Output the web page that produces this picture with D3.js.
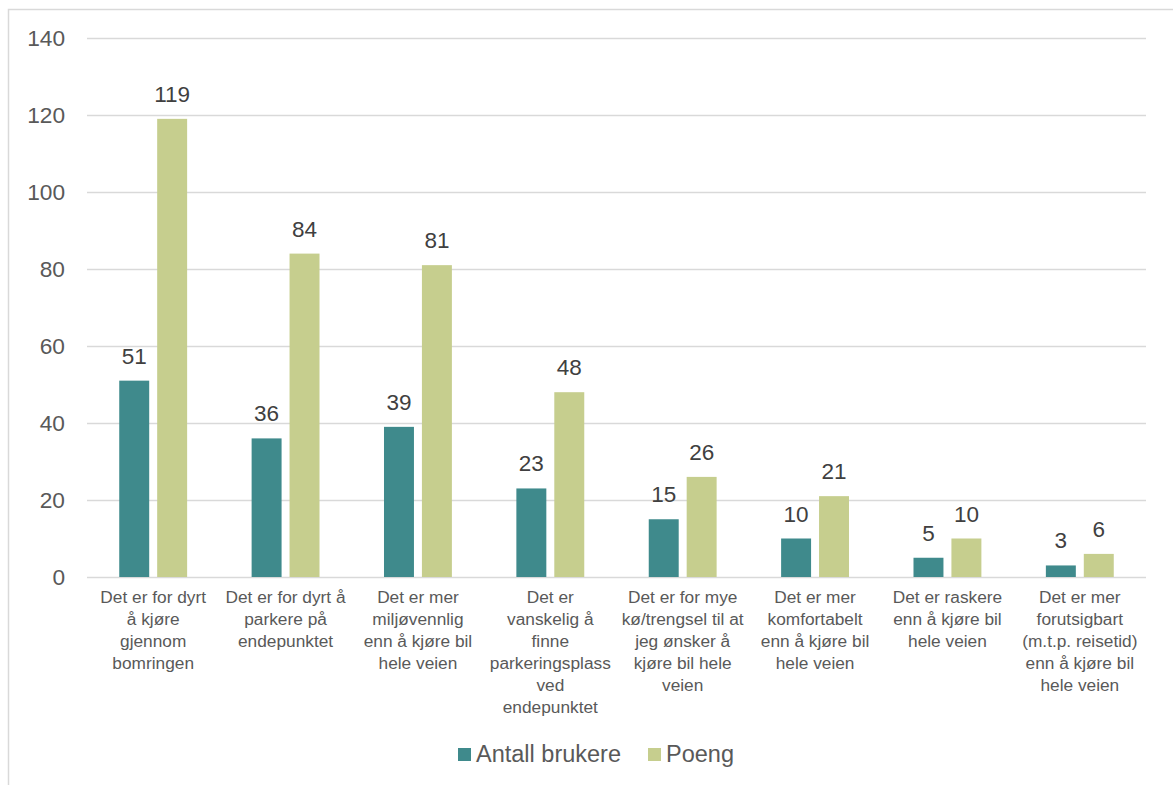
<!DOCTYPE html>
<html>
<head>
<meta charset="utf-8">
<script src="https://cdn.jsdelivr.net/npm/d3@7"></script>
<style>
  html, body { margin: 0; padding: 0; background: #fff; }
  svg { display: block; font-family: "Liberation Sans", Arial, sans-serif; }
</style>
</head>
<body>
<svg id="chart" width="1173" height="785"></svg>
<script>
// Reasons for choosing park-and-ride, with line breaks as shown under each group
const categories = [
  "Det er for dyrt\nå kjøre\ngjennom\nbomringen",
  "Det er for dyrt å\nparkere på\nendepunktet",
  "Det er mer\nmiljøvennlig\nenn å kjøre bil\nhele veien",
  "Det er\nvanskelig å\nfinne\nparkeringsplass\nved\nendepunktet",
  "Det er for mye\nkø/trengsel til at\njeg ønsker å\nkjøre bil hele\nveien",
  "Det er mer\nkomfortabelt\nenn å kjøre bil\nhele veien",
  "Det er raskere\nenn å kjøre bil\nhele veien",
  "Det er mer\nforutsigbart\n(m.t.p. reisetid)\nenn å kjøre bil\nhele veien"
];
const seriesNames = ["Antall brukere", "Poeng"];
const antallBrukere = [51, 36, 39, 23, 15, 10, 5, 3];
const poeng = [119, 84, 81, 48, 26, 21, 10, 6];
const yTicks = [0, 20, 40, 60, 80, 100, 120, 140];
const colors = ["#3f8a8c", "#c6ce8e"];

const svg = d3.select("#chart");
const textColor = "#595959";
const gridColor = "#d9d9d9";

// outer chart frame
svg.append("rect")
  .attr("x", 8.5).attr("y", 9.5)
  .attr("width", 1180).attr("height", 800)
  .attr("fill", "none").attr("stroke", gridColor).attr("stroke-width", 1.5);

const plot = { left: 87, right: 1146, top: 38, bottom: 577 };

const y = d3.scaleLinear().domain([0, 140]).range([plot.bottom, plot.top]);

const x0 = d3.scaleBand()
  .domain(d3.range(categories.length))
  .range([plot.left, plot.right])
  .padding(0);

const x1 = d3.scaleBand()
  .domain(seriesNames)
  .range([0, x0.bandwidth()])
  .paddingInner(0.21)
  .paddingOuter(0.85);

// gridlines
svg.append("g")
  .selectAll("line")
  .data(yTicks)
  .join("line")
  .attr("x1", plot.left).attr("x2", plot.right)
  .attr("y1", d => Math.round(y(d)) + 0.5).attr("y2", d => Math.round(y(d)) + 0.5)
  .attr("stroke", gridColor).attr("stroke-width", 1.5);

// y axis labels
const yAxis = d3.axisLeft(y).tickValues(yTicks).tickSize(0).tickPadding(22);
const yg = svg.append("g").attr("transform", `translate(${plot.left},0)`).call(yAxis);
yg.select(".domain").remove();
yg.selectAll("text")
  .attr("fill", textColor)
  .style("font-size", "22.7px")
  .style("font-family", "'Liberation Sans', Arial, sans-serif");

// bars
const data = categories.map((c, i) => ({
  i,
  values: [
    { key: seriesNames[0], value: antallBrukere[i], color: colors[0] },
    { key: seriesNames[1], value: poeng[i], color: colors[1] }
  ]
}));

const groups = svg.append("g")
  .selectAll("g")
  .data(data)
  .join("g")
  .attr("transform", d => `translate(${x0(d.i)},0)`);

groups.selectAll("rect")
  .data(d => d.values)
  .join("rect")
  .attr("x", d => x1(d.key))
  .attr("width", x1.bandwidth())
  .attr("y", d => y(d.value))
  .attr("height", d => y(0) - y(d.value))
  .attr("fill", d => d.color);

// value labels above bars
groups.selectAll("text.val")
  .data(d => d.values)
  .join("text")
  .attr("class", "val")
  .attr("x", d => x1(d.key) + x1.bandwidth() / 2)
  .attr("y", d => y(d.value) - 17)
  .attr("text-anchor", "middle")
  .attr("fill", "#404040")
  .style("font-size", "22.5px")
  .text(d => d.value);

// category labels under the axis
const catLabels = svg.append("g")
  .selectAll("text")
  .data(categories)
  .join("text")
  .attr("x", (d, i) => x0(i) + x0.bandwidth() / 2)
  .attr("y", 603)
  .attr("text-anchor", "middle")
  .attr("fill", textColor)
  .style("font-size", "17.3px");

catLabels.each(function (d) {
  const t = d3.select(this);
  d.split("\n").forEach((line, k) => {
    t.append("tspan")
      .attr("x", t.attr("x"))
      .attr("y", 603 + k * 22)
      .text(line);
  });
});

// legend
const legendItems = [
  { name: seriesNames[0], color: colors[0], x: 458 },
  { name: seriesNames[1], color: colors[1], x: 648 }
];
const legend = svg.append("g");
legendItems.forEach(item => {
  legend.append("rect")
    .attr("x", item.x).attr("y", 748)
    .attr("width", 13).attr("height", 13)
    .attr("fill", item.color);
  legend.append("text")
    .attr("x", item.x + 18).attr("y", 762)
    .attr("fill", textColor)
    .style("font-size", "23.5px")
    .text(item.name);
});
</script>
</body>
</html>
